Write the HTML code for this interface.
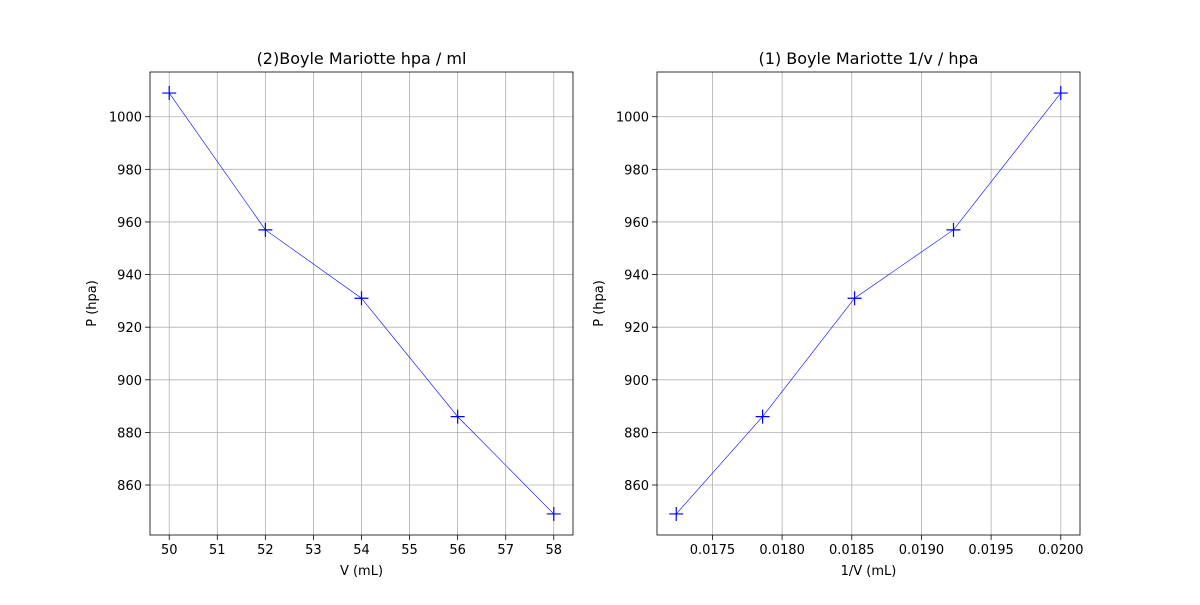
<!DOCTYPE html>
<html><head><meta charset="utf-8"><style>
body{margin:0;background:#fff}
svg text{font-family:"DejaVu Sans","Liberation Sans",sans-serif;fill:#000}
</style></head><body>
<svg id="fig" width="1200" height="600" xmlns="http://www.w3.org/2000/svg"></svg>
<script>
const volumes = [50, 52, 54, 56, 58];
const pressures = [1009, 957, 931, 886, 849];
const invVolumes = [0.02, 0.01923, 0.01852, 0.01786, 0.01724];
const yTicks = [860, 880, 900, 920, 940, 960, 980, 1000];
const leftXTicks = [50, 51, 52, 53, 54, 55, 56, 57, 58];
const rightXTicks = [0.0175, 0.0180, 0.0185, 0.0190, 0.0195, 0.0200];

const NS = "http://www.w3.org/2000/svg";
const svg = document.getElementById("fig");
function mk(tag, attrs, parent, txt) {
  const e = document.createElementNS(NS, tag);
  for (const k in attrs) e.setAttribute(k, attrs[k]);
  if (txt !== undefined) e.textContent = txt;
  (parent || svg).appendChild(e);
  return e;
}
function panel(name, left, xs, ys, xTicks, xFmt, title, xlabel) {
  const top = 72, bottom = 535, right = left + 423;
  const g = mk("g", {});
  
  
  const xmin = Math.min(...xs), xmax = Math.max(...xs), xr = xmax - xmin;
  const ymin = Math.min(...ys), ymax = Math.max(...ys), yr = ymax - ymin;
  const x0 = xmin - 0.05 * xr, x1 = xmax + 0.05 * xr;
  const y0 = ymin - 0.05 * yr, y1 = ymax + 0.05 * yr;
  const X = v => left + (v - x0) / (x1 - x0) * (right - left);
  const Y = v => bottom - (v - y0) / (y1 - y0) * (bottom - top);
  xTicks.forEach(t => {
    const px = X(t);
    const gl = mk("line", {x1: px, x2: px, y1: top, y2: bottom, stroke: "#b0b0b0", "stroke-width": 0.8}, g);
    
    
    mk("line", {x1: px, x2: px, y1: bottom, y2: bottom + 5, stroke: "#000", "stroke-width": 0.8}, g);
    const tl = mk("text", {x: px, y: bottom + 19, "text-anchor": "middle", "font-size": 13}, g, xFmt(t));
    
    
  });
  yTicks.forEach(t => {
    const py = Y(t);
    const gl = mk("line", {x1: left, x2: right, y1: py, y2: py, stroke: "#b0b0b0", "stroke-width": 0.8}, g);
    
    
    mk("line", {x1: left - 5, x2: left, y1: py, y2: py, stroke: "#000", "stroke-width": 0.8}, g);
    const tl = mk("text", {x: left - 8, y: py + 5, "text-anchor": "end", "font-size": 13}, g, String(t));
    
    
  });
  const pts = xs.map((v, i) => X(v) + "," + Y(ys[i])).join(" ");
  const line = mk("polyline", {points: pts, fill: "none", stroke: "#0000ff", "stroke-width": 0.6}, g);
  
  
  xs.forEach((v, i) => {
    const px = X(v), py = Y(ys[i]);
    const m = mk("path", {d: `M${px-7},${py}H${px+7}M${px},${py-7}V${py+7}`, stroke: "#0000ff", "stroke-width": 1.2}, g);
    
    
  });
  const frame = mk("rect", {x: left, y: top, width: right - left, height: bottom - top, fill: "none", stroke: "#000", "stroke-width": 0.8}, g);
  
  
  const tt = mk("text", {x: (left + right) / 2, y: top - 8, "text-anchor": "middle", "font-size": 16}, g, title);
  
  
  const xl = mk("text", {x: (left + right) / 2, y: bottom + 40, "text-anchor": "middle", "font-size": 13}, g, xlabel);
  
  
  const yl = mk("text", {x: 0, y: 0, "text-anchor": "middle", "font-size": 13, transform: `translate(${left - 54},${(top + bottom) / 2}) rotate(-90)`}, g, "P (hpa)");
  
  
}
panel("pressure-vs-volume-chart", 150, volumes, pressures, leftXTicks, t => String(t), "(2)Boyle Mariotte hpa / ml", "V (mL)");
panel("pressure-vs-inverse-volume-chart", 657, invVolumes, pressures, rightXTicks, t => t.toFixed(4), "(1) Boyle Mariotte 1/v / hpa", "1/V (mL)");
</script>
</body></html>
